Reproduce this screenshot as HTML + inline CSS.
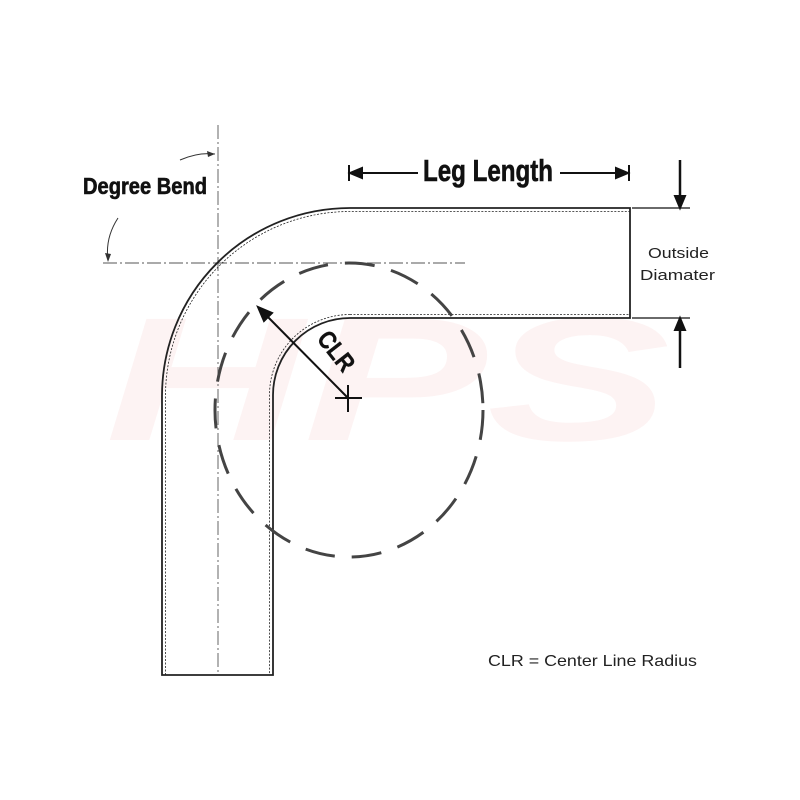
<!DOCTYPE html>
<html><head><style>body{margin:0;background:#fff}svg{display:block}</style></head><body>
<svg width="800" height="800" viewBox="0 0 800 800" xmlns="http://www.w3.org/2000/svg">
<text transform="translate(105,440) scale(1,0.8)" font-family="Liberation Sans" font-weight="bold" font-style="italic" font-size="220" fill="#fdf3f3" textLength="565" lengthAdjust="spacingAndGlyphs">HPS</text>
<g stroke="#555" stroke-width="0.9" fill="none" stroke-dasharray="14,3,2,3">
<line x1="218" y1="125" x2="218" y2="675"/>
<line x1="103" y1="263" x2="465" y2="263"/>
</g>
<g fill="none" stroke="#222">
<path d="M162,675 L162,396 A188,188 0 0 1 350,208 L630,208 L630,318 L350,318 A77,77 0 0 0 273,395 L273,675 Z" stroke-width="1.8"/>
<path d="M165.5,675 L165.5,396 A184.5,184.5 0 0 1 350,211.5 L630,211.5 M350,314.5 L630,314.5 M350,314.5 A80.5,80.5 0 0 0 269.5,395 L269.5,675" stroke-width="0.8" stroke-dasharray="2,1.5"/>
</g>
<ellipse cx="349" cy="410" rx="134" ry="147" fill="none" stroke="#444" stroke-width="3" stroke-dasharray="30,17"/>
<g stroke="#111" stroke-width="2" fill="#111">
<line x1="262" y1="311" x2="348" y2="398"/>
<path d="M258,307 L272,313 L264,321 Z"/>
<line x1="335" y1="398" x2="362" y2="398"/><line x1="348" y1="385" x2="348" y2="412"/>
<line x1="350" y1="173" x2="418" y2="173"/><line x1="560" y1="173" x2="628" y2="173"/>
<line x1="349" y1="165" x2="349" y2="181"/><line x1="629" y1="165" x2="629" y2="181"/>
<path d="M350,173 L362,168 L362,178 Z"/><path d="M628,173 L616,168 L616,178 Z"/>
<line x1="680" y1="160" x2="680" y2="205" stroke-width="2.5"/><path d="M680,208 L675,196 L685,196 Z"/>
<line x1="680" y1="321" x2="680" y2="368" stroke-width="2.5"/><path d="M680,318 L675,330 L685,330 Z"/>
</g>
<g stroke="#111" stroke-width="1.2"><line x1="632" y1="208" x2="690" y2="208"/><line x1="632" y1="318" x2="690" y2="318"/></g>
<g fill="none" stroke="#333" stroke-width="1"><path d="M180,160 Q198,152 215,154"/><path d="M118,218 Q105,238 108,260"/></g>
<path d="M215,154 L207,151 L208,157 Z M108,262 L105,253 L111,254 Z" fill="#333"/>
<text transform="translate(316,339) rotate(52)" font-family="Liberation Sans Narrow, Liberation Sans, sans-serif" font-weight="bold" font-size="25" fill="#111" stroke="#111" stroke-width="0.4" textLength="44" lengthAdjust="spacingAndGlyphs">CLR</text>
<text x="83" y="194" font-family="Liberation Sans Narrow, Liberation Sans, sans-serif" font-weight="bold" font-size="23" fill="#111" stroke="#111" stroke-width="0.6" textLength="124" lengthAdjust="spacingAndGlyphs">Degree Bend</text>
<text x="423" y="181" font-family="Liberation Sans Narrow, Liberation Sans, sans-serif" font-weight="bold" font-size="31" fill="#111" stroke="#111" stroke-width="0.6" textLength="130" lengthAdjust="spacingAndGlyphs">Leg Length</text>
<text x="648" y="258" font-family="Liberation Sans, sans-serif" font-size="15" fill="#222" textLength="61" lengthAdjust="spacingAndGlyphs">Outside</text>
<text x="640" y="280" font-family="Liberation Sans, sans-serif" font-size="15" fill="#222" textLength="75" lengthAdjust="spacingAndGlyphs">Diamater</text>
<text x="488" y="666" font-family="Liberation Sans, sans-serif" font-size="16" fill="#222" textLength="209" lengthAdjust="spacingAndGlyphs">CLR = Center Line Radius</text>
</svg>
</body></html>
